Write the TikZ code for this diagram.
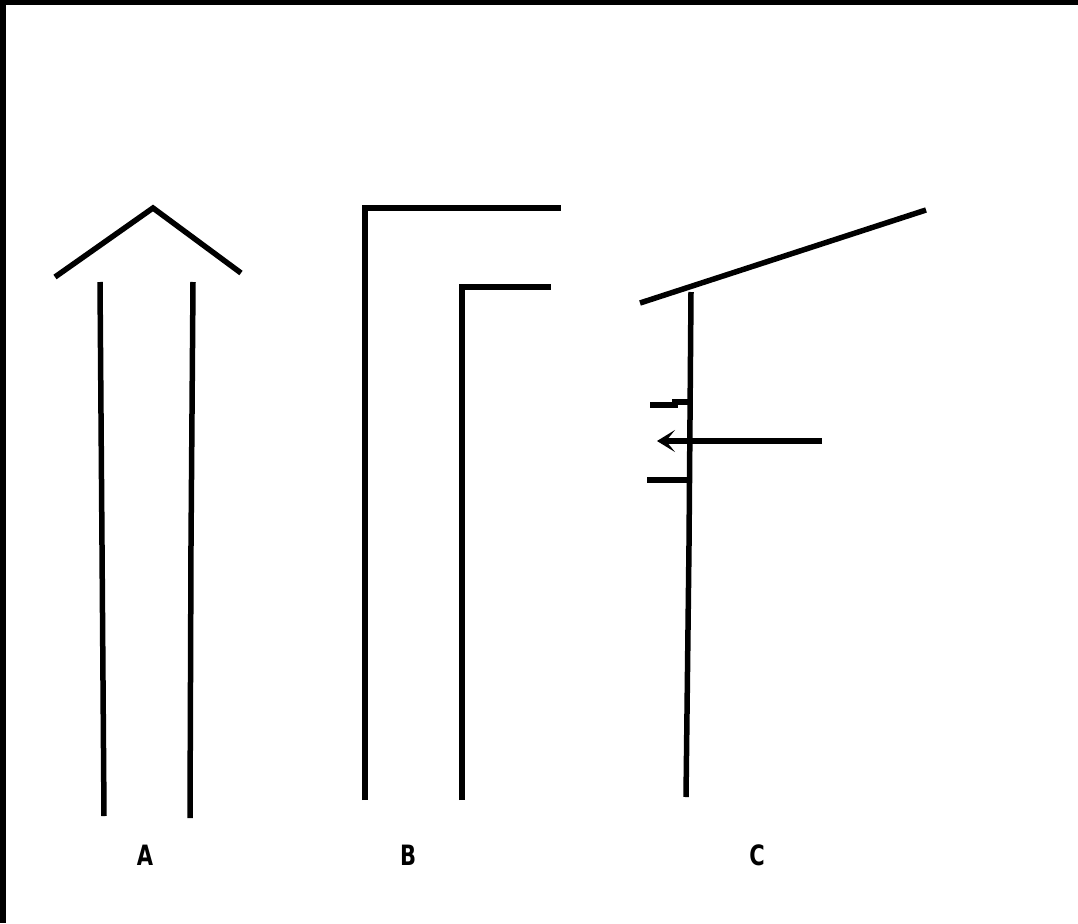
\documentclass[tikz,border=0pt]{standalone}
\usepackage{fontspec}
\setmainfont{DejaVu Sans}
\usetikzlibrary{arrows.meta}
\begin{document}
\begin{tikzpicture}[x=1pt,y=-1pt,
  stroke/.style={line width=5.5pt,black},
  lbl/.style={font=\fontsize{28}{30}\selectfont\bfseries,xscale=0.75,inner sep=0pt}]
\useasboundingbox (0,0) rectangle (1078,923);
\fill[white] (0,0) rectangle (1078,923);
\fill[black] (0,0) rectangle (1078,5.5);
\fill[black] (0,0) rectangle (6,923);
% A
\draw[stroke] (55,277) -- (153,208) -- (241,273);
\draw[stroke] (100,282) -- (102,545) -- (104,816);
\draw[stroke] (193,282) -- (191,545) -- (190,818);
% B
\draw[stroke] (365,800) -- (365,208) -- (561,208);
\draw[stroke] (462,800) -- (462,287) -- (551,287);
% C
\draw[stroke] (640,303) -- (926,210);
\draw[stroke] (691,292) -- (689,545) -- (686,797);
\draw[stroke] (650,405) -- (675,405) -- (675,402) -- (690,402);
\draw[stroke] (647,480) -- (689,480);
\coordinate (arS) at (822,441);
\coordinate (arE) at (657,441);
\draw[stroke,-{Stealth[length=18pt,width=22pt,inset=9pt]}] (arS) -- (arE);
% labels
\node[lbl] (la) at (145,855) {A};
\node[lbl] (lb) at (408,855) {B};
\node[lbl] (lc) at (757,855) {C};
\end{tikzpicture}
\end{document}
